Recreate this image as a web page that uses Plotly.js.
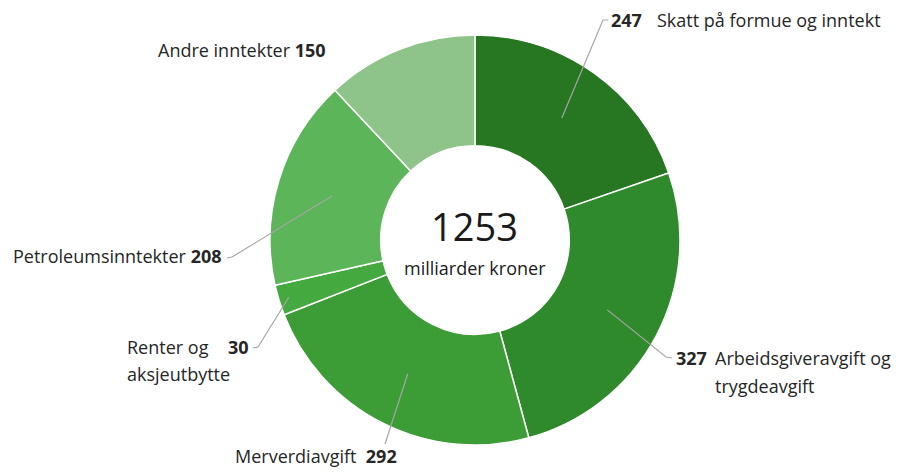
<!DOCTYPE html>
<html>
<head>
<meta charset="utf-8">
<script src="https://cdn.plot.ly/plotly-3.0.1.min.js"></script>
<style>html,body{margin:0;padding:0;background:#fff;}#chart{width:909px;height:474px;}</style>
</head>
<body>
<div id="chart"></div>
<script>
// Data
const categories = ["Skatt på formue og inntekt", "Arbeidsgiveravgift og trygdeavgift", "Merverdiavgift", "Renter og aksjeutbytte", "Petroleumsinntekter", "Andre inntekter"];
const values = [247, 327, 292, 30, 208, 150];
const sliceColors = ["#267622", "#2f8a2b", "#3c9c36", "#44aa3f", "#5db55a", "#8ec38a"];
const totalLabel = "1253";
const unitLabel = "milliarder kroner";

// Layout geometry (pixels)
const W = 909, H = 474;
const cx = 475, cy = 240, R = 205;
const px = x => x / W;
const py = y => 1 - y / H;

// Leader-line anchor radius fraction per slice and label endpoints (style/layout)
const anchorFrac = [0.73, 0.73, 0.73, 0.95, 0.73, null];
const leaderEnds = [
  [[603, 20], [608, 20]],
  [[666, 357], [672, 358]],
  [[385, 444]],
  [[258, 347], [253, 348]],
  [[232, 257], [227, 258]],
  null
];

const total = values.reduce((a, b) => a + b, 0);
let cum = 0;
const shapes = [];
values.forEach((v, i) => {
  const mid = (cum + v / 2) / total * 2 * Math.PI;
  cum += v;
  if (!leaderEnds[i]) return;
  const r = R * anchorFrac[i];
  const ax = cx + r * Math.sin(mid), ay = cy - r * Math.cos(mid);
  let path = `M ${px(ax)} ${py(ay)}`;
  leaderEnds[i].forEach(p => { path += ` L ${px(p[0])} ${py(p[1])}`; });
  shapes.push({type: 'path', xref: 'paper', yref: 'paper', path: path,
    line: {color: '#a6a6a6', width: 1.2}});
});

const FAM = '"Open Sans", Lato, sans-serif';
const txtFont = {family: FAM, size: 18, color: '#262626'};
function ann(text, x, y, xanchor, extra) {
  return Object.assign({text: text, x: px(x), y: py(y), xref: 'paper', yref: 'paper',
    xanchor: xanchor, yanchor: 'middle', showarrow: false, font: txtFont, align: 'left'}, extra || {});
}

const annotations = [
  ann('<b>' + values[0] + '</b>', 609, 20, 'left'),
  ann('Skatt på formue og inntekt', 655, 20, 'left'),
  ann('<b>' + values[1] + '</b>', 674, 358, 'left'),
  ann('Arbeidsgiveravgift og', 713, 358, 'left'),
  ann('trygdeavgift', 713, 386, 'left'),
  ann('Merverdiavgift  <b>' + values[2] + '</b>', 316, 456, 'center'),
  ann('<b>' + values[3] + '</b>', 251, 347, 'right'),
  ann('Renter og', 125, 347, 'left'),
  ann('aksjeutbytte', 125, 374, 'left'),
  ann('Petroleumsinntekter <b>' + values[4] + '</b>', 224, 256, 'right'),
  ann('Andre inntekter <b>' + values[5] + '</b>', 328, 50, 'right'),
  ann(totalLabel, cx, 226, 'center', {font: {family: FAM, size: 38, color: '#1a1a1a'}}),
  ann(unitLabel, cx, 268, 'center', {font: {family: FAM, size: 18, color: '#1a1a1a'}})
];

const trace = {
  type: 'pie',
  labels: categories,
  values: values,
  hole: 0.46,
  sort: false,
  direction: 'clockwise',
  rotation: 0,
  textinfo: 'none',
  hoverinfo: 'label+value',
  marker: {colors: sliceColors, line: {color: '#ffffff', width: 1.5}},
  domain: {x: [px(cx - R), px(cx + R)], y: [py(cy + R), py(cy - R)]},
  showlegend: false
};

Plotly.newPlot('chart', [trace], {
  width: W, height: H,
  margin: {l: 0, r: 0, t: 0, b: 0},
  paper_bgcolor: '#ffffff',
  showlegend: false,
  shapes: shapes,
  annotations: annotations
}, {displayModeBar: false, staticPlot: true});
</script>
</body>
</html>
